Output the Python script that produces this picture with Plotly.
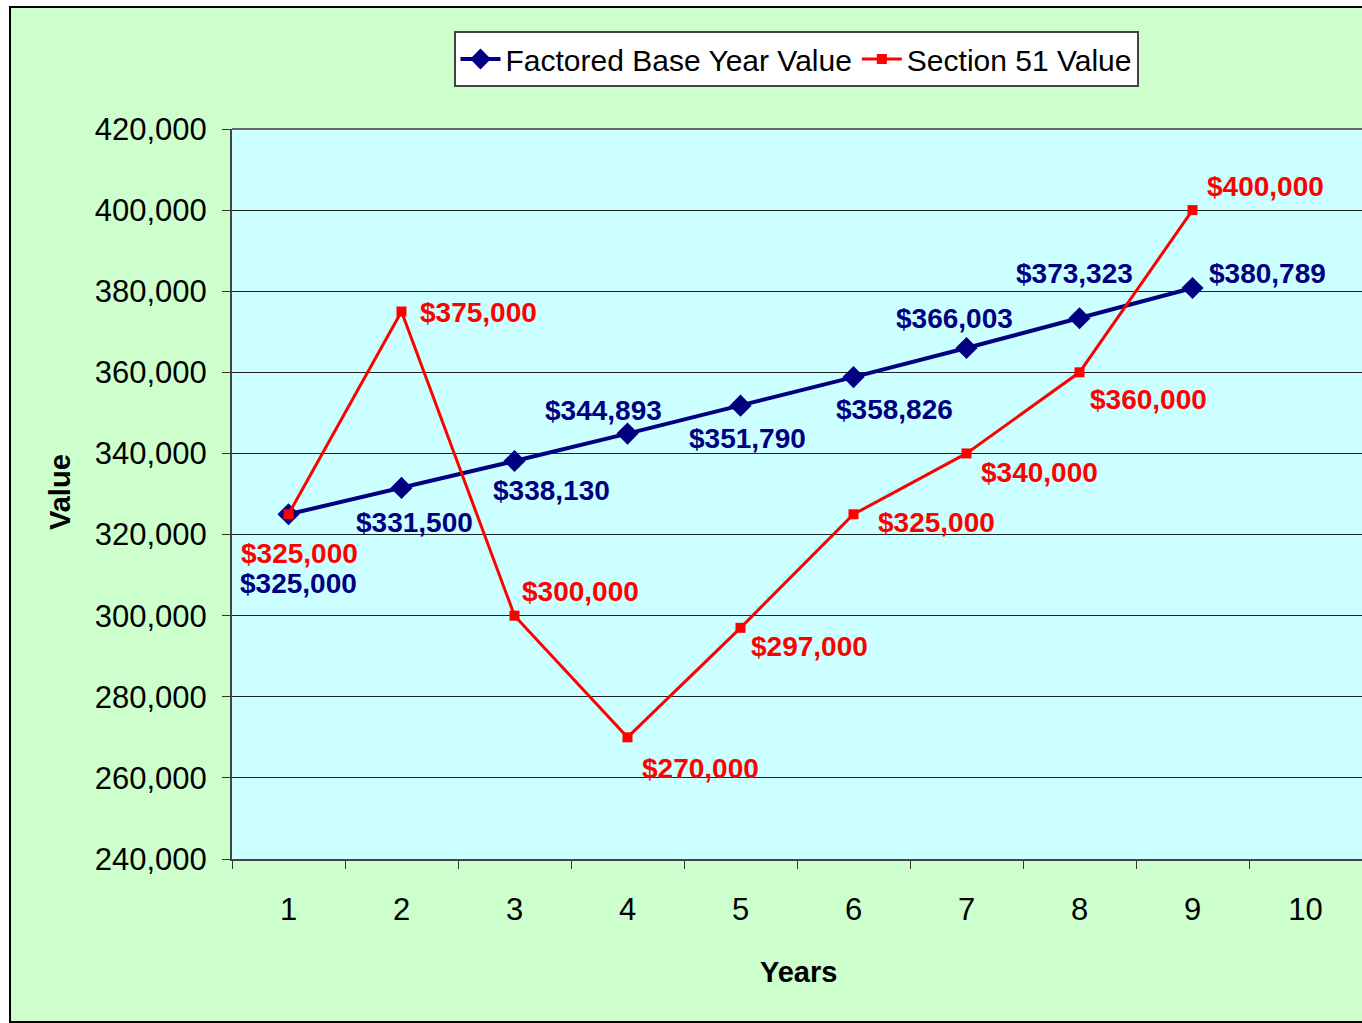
import plotly.graph_objects as go

categories = [str(i) for i in range(1, 11)]
factored_base = [325000, 331500, 338130, 344893, 351790, 358826, 366003, 373323, 380789]
section51 = [325000, 375000, 300000, 270000, 297000, 325000, 340000, 360000, 400000]
y_ticks = list(range(240000, 420001, 20000))

BLUE = "#000080"
RED = "#FF0000"
FONT = "Liberation Sans, Arial, sans-serif"

# label pixel offsets (dx right, dy down) relative to the marker
blue_off = [(10, 69), (13, 35), (37, 29), (-24, -23), (7, 33), (41, 32), (-12, -29), (-5, -45), (75, -15)]
red_off = [(11, 39), (77, 1), (66, -24), (73, 31), (69, 19), (83, 8), (73, 19), (69, 27), (73, -24)]

W, H = 1362, 1023
L, T, B = 232, 129, 164
PW = W - L
PH = H - T - B


def px(x):
    return (x - L) / PW


def py(y):
    return (H - B - y) / PH


fig = go.Figure()
fig.add_trace(go.Scatter(
    x=categories[:len(factored_base)], y=factored_base, name="Factored Base Year Value",
    mode="lines+markers", line=dict(color=BLUE, width=4),
    marker=dict(symbol="diamond", size=17, color=BLUE)))
fig.add_trace(go.Scatter(
    x=categories[:len(section51)], y=section51, name="Section 51 Value",
    mode="lines+markers", line=dict(color=RED, width=3),
    marker=dict(symbol="square", size=10, color=RED)))

annots = []
for vals, offs, col in [(factored_base, blue_off, BLUE), (section51, red_off, RED)]:
    for i, (v, (dx, dy)) in enumerate(zip(vals, offs)):
        annots.append(dict(x=i, y=v, xref="x", yref="y", text=f"${v:,}",
                           showarrow=False, xshift=dx, yshift=-dy,
                           xanchor="center", yanchor="middle",
                           font=dict(family=FONT, size=28, color=col, weight="bold")))

annots.append(dict(x=px(798), y=py(972), xref="paper", yref="paper",
                   text="Years", showarrow=False, xanchor="center", yanchor="middle",
                   font=dict(family=FONT, size=29, color="black", weight="bold")))
annots.append(dict(x=px(60), y=py(492), xref="paper", yref="paper",
                   text="Value", showarrow=False, textangle=-90,
                   xanchor="center", yanchor="middle",
                   font=dict(family=FONT, size=29, color="black", weight="bold")))

fig.update_layout(
    width=W, height=H,
    margin=dict(l=L, r=0, t=T, b=B),
    paper_bgcolor="white", plot_bgcolor="#CCFFFF",
    showlegend=True,
    legend=dict(orientation="h", x=px(796), xanchor="center",
                y=py(31), yanchor="top",
                bgcolor="white", bordercolor="#444444", borderwidth=2,
                font=dict(family=FONT, size=30, color="black"),
                itemwidth=40),
    annotations=annots,
    shapes=[dict(type="rect", xref="paper", yref="paper", layer="below",
                 x0=px(10), x1=px(1372), y0=py(1022), y1=py(7),
                 fillcolor="#CCFFCC", line=dict(color="black", width=2)),
            dict(type="rect", xref="paper", yref="paper", layer="below",
                 x0=0, x1=1, y0=0, y1=1,
                 fillcolor="#CCFFFF", line=dict(width=0)),
            dict(type="line", xref="paper", yref="paper", layer="below",
                 x0=0, x1=1, y0=1, y1=1,
                 line=dict(color="#666666", width=2))],
)
fig.update_xaxes(type="category", categoryorder="array", categoryarray=categories,
                 range=[-0.5, 9.5], tickson="boundaries", ticks="outside", ticklen=8,
                 tickcolor="#333333", showline=True, linecolor="#444444", linewidth=2,
                 showgrid=False, tickfont=dict(family=FONT, size=31, color="black"),
                 ticklabelstandoff=22, zeroline=False)
fig.update_yaxes(range=[240000, 420000], tickvals=y_ticks, tickformat=",d",
                 ticks="outside", ticklen=8, tickcolor="#333333",
                 showline=True, linecolor="#444444", linewidth=2,
                 showgrid=True, gridcolor="#222222", gridwidth=1,
                 tickfont=dict(family=FONT, size=31, color="black"),
                 ticklabelstandoff=9, zeroline=False)

fig.write_html("out.html", config={"displayModeBar": False},
               post_script="document.body.style.margin='0';")
